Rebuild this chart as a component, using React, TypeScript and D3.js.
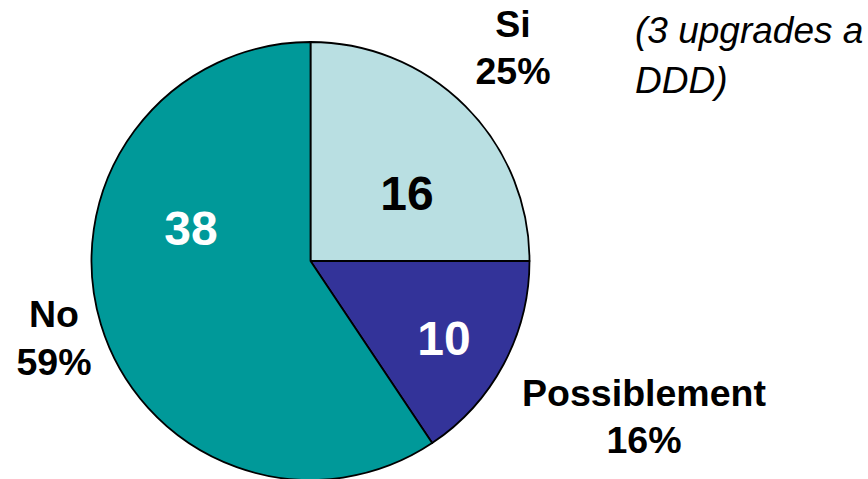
import React from "react";
import * as d3 from "d3";

const categories = ["Si", "Possiblement", "No"];
const values = [16, 10, 38];
const percentLabels = ["25%", "16%", "59%"];
const colors = ["#B9DFE2", "#333399", "#009999"];
const valueColors = ["#000000", "#FFFFFF", "#FFFFFF"];
const annotationLines = ["(3 upgrades a", "DDD)"];

const W = 868;
const H = 479;
const cx = 310.5;
const cy = 261;
const R = 219;

// label placement (positions only, texts from arrays)
const labelPos = [
  { x: 513, y1: 37, y2: 84 },
  { x: 644, y1: 406, y2: 453 },
  { x: 54, y1: 327, y2: 375 },
];
const valuePos = [
  { x: 407, y: 210 },
  { x: 444, y: 355 },
  { x: 191, y: 245 },
];

export default function App() {
  const pie = d3.pie<number>().sort(null).value((d) => d)(values);
  const arc = d3.arc<d3.PieArcDatum<number>>().innerRadius(0).outerRadius(R);
  const font = "'Liberation Sans', Arial, sans-serif";
  return (
    <svg
      width={W}
      height={H}
      style={{ position: "absolute", left: 0, top: 0, background: "#fff" }}
    >
      <g transform={`translate(${cx},${cy})`}>
        {pie.map((p, i) => (
          <path
            key={categories[i]}
            d={arc(p) || ""}
            fill={colors[i]}
            stroke="#000"
            strokeWidth={1.8}
            strokeLinejoin="round"
          />
        ))}
      </g>
      {values.map((v, i) => (
        <text
          key={"v" + i}
          x={valuePos[i].x}
          y={valuePos[i].y}
          textAnchor="middle"
          fontFamily={font}
          fontWeight="bold"
          fontSize={48}
          fill={valueColors[i]}
        >
          {v}
        </text>
      ))}
      {categories.map((c, i) => (
        <g key={"l" + i} fontFamily={font} fontWeight="bold" fontSize={37.5} fill="#000" textAnchor="middle">
          <text x={labelPos[i].x} y={labelPos[i].y1}>{c}</text>
          <text x={labelPos[i].x} y={labelPos[i].y2}>{percentLabels[i]}</text>
        </g>
      ))}
      {annotationLines.map((t, i) => (
        <text
          key={"a" + i}
          x={635}
          y={43 + i * 50}
          fontFamily={font}
          fontStyle="italic"
          fontSize={37}
          fill="#000"
        >
          {t}
        </text>
      ))}
    </svg>
  );
}
